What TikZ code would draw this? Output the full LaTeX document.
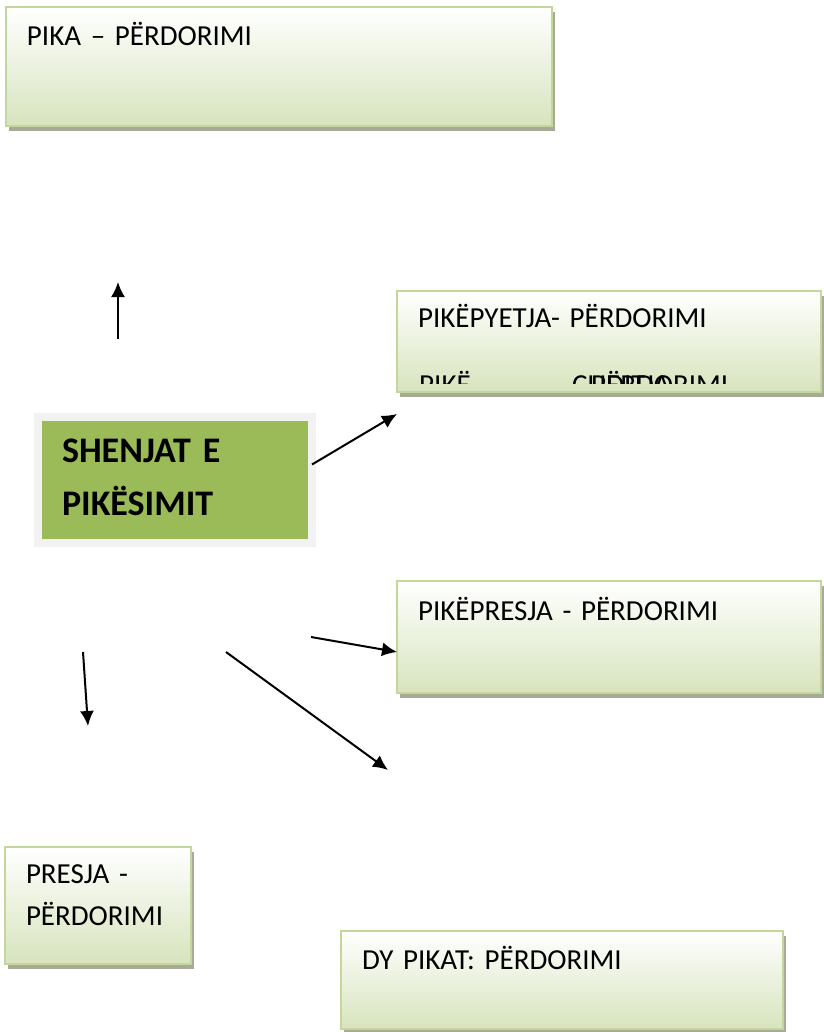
\documentclass[tikz,border=0pt]{standalone}
\usepackage{fontspec}
\setmainfont{Carlito}[WordSpace=0.85]
\usetikzlibrary{arrows.meta,shadows}
\definecolor{edgegreen}{HTML}{C3D69B}
\definecolor{lowgreen}{HTML}{D7E4BD}
\definecolor{midgreen}{HTML}{EDF3E2}
\definecolor{shadowgray}{RGB}{166,170,150}
\definecolor{mainfill}{HTML}{9BBB59}
\definecolor{mainframe}{HTML}{F2F2F2}

\begin{document}
\begin{tikzpicture}[
    x=1pt,y=-1pt,
    box/.style={rectangle,draw=edgegreen,line width=2.5pt,top color=white,middle color=midgreen,bottom color=lowgreen,
        anchor=north west,outer sep=0pt,align=left,inner xsep=21pt,inner ysep=0pt,text height=39pt,
        font=\fontsize{29}{42}\selectfont,
        drop shadow={shadow xshift=3pt,shadow yshift=-5pt,fill=shadowgray,opacity=1}},
    mainbox/.style={rectangle,draw=mainframe,line width=8pt,fill=mainfill,
        anchor=north west,outer sep=0pt,align=left,inner xsep=24pt,inner ysep=0pt,
        font=\bfseries\fontsize{36}{53}\selectfont,
        drop shadow={shadow xshift=3pt,shadow yshift=-4pt,fill=shadowgray,opacity=1}},
    arrow/.style={-{Latex[length=15pt,width=14pt]},line width=2pt}
]
\useasboundingbox (0,0) rectangle (823,1032);

% boxes
\node[box,text width=504pt,text depth=80pt] (pika) at (6,7) {PIKA – PËRDORIMI};
\node[box,text width=382pt,text height=36pt,text depth=65pt] (pyetja) at (397,291) {PIKËPYETJA- PËRDORIMI};
\node[box,text width=382pt,text depth=73pt] (pikepresja) at (397,581) {PIKËPRESJA - PËRDORIMI};
\node[box,text width=144pt,text height=36pt,text depth=81pt] (presja) at (5,847) {PRESJA -\\PËRDORIMI};
\node[box,text width=400pt,text height=38pt,text depth=60pt] (dypikat) at (341,931) {DY PIKAT: PËRDORIMI};
\node[mainbox,text width=226pt,text height=45.5pt,text depth=80.5pt] (main) at (38,416.5) {SHENJAT E\\PIKËSIMIT};

% second line of pyetja, cut off at the bottom
\begin{scope}
\clip (397,291) rectangle (821,383);
\node[anchor=base west,inner sep=0pt,font=\fontsize{29}{42}\selectfont] (pike) at (419,394) {PIKË};
\node[anchor=base west,inner sep=0pt,font=\fontsize{29}{42}\selectfont] (cudi) at (572,394) {ÇUDITJA};
\node[anchor=base west,inner sep=0pt,font=\fontsize{29}{42}\selectfont] (perd) at (591,394) {PËRDORIMI};
\end{scope}

% free arrow ends
\coordinate (upT) at (118,339);
\coordinate (upH) at (118,282);
\coordinate (pyH) at (397,414);
\coordinate (psT) at (311,637);
\coordinate (psH) at (397,652);
\coordinate (dnT) at (83,652);
\coordinate (dnH) at (88,726);
\coordinate (dyT) at (226,652);
\coordinate (dyH) at (388,770);

\draw[arrow] (upT) -- (upH);
\draw[arrow] ([yshift=15pt]main.east) -- (pyH);
\draw[arrow] (psT) -- (psH);
\draw[arrow] (dnT) -- (dnH);
\draw[arrow] (dyT) -- (dyH);
\end{tikzpicture}
\end{document}
